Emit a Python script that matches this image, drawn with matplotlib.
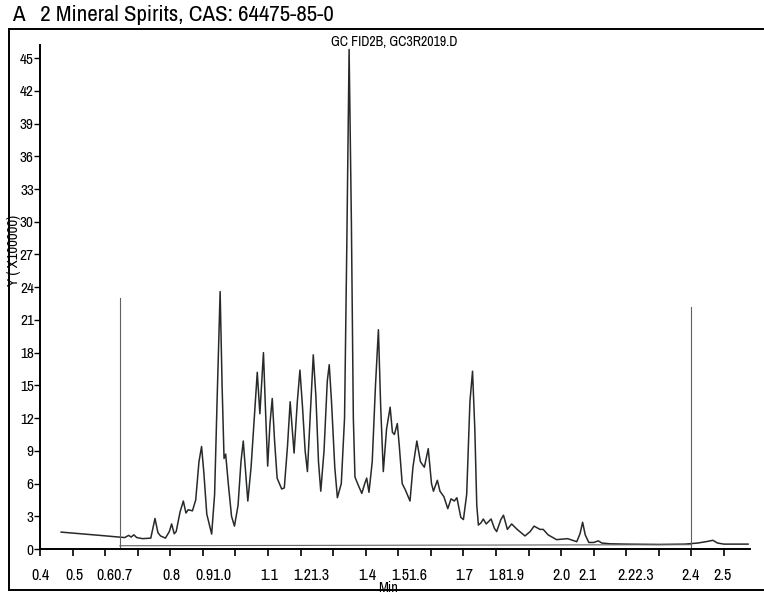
import numpy as np
import matplotlib.pyplot as plt
from matplotlib.lines import Line2D
from matplotlib import font_manager

#%% chromatogram (time in min, signal in 1e5 counts)
rt = [0.465, 0.523, 0.584, 0.643, 0.660, 0.672, 0.680, 0.688, 0.697, 0.715, 0.740,
      0.753, 0.762, 0.770, 0.785, 0.797, 0.804, 0.812, 0.818, 0.830, 0.840, 0.848,
      0.855, 0.868, 0.878, 0.888, 0.896, 0.903, 0.912, 0.927, 0.936, 0.944, 0.953,
      0.959, 0.965, 0.970, 0.978, 0.988, 0.997, 1.008, 1.017, 1.024, 1.030, 1.038,
      1.048, 1.058, 1.067, 1.075, 1.086, 1.092, 1.099, 1.106, 1.113, 1.120, 1.128,
      1.142, 1.150, 1.160, 1.168, 1.180, 1.190, 1.198, 1.206, 1.214, 1.221, 1.230,
      1.239, 1.247, 1.255, 1.262, 1.272, 1.282, 1.288, 1.295, 1.305, 1.313, 1.325,
      1.335, 1.342, 1.349, 1.356, 1.362, 1.367, 1.375, 1.388, 1.397, 1.403, 1.410,
      1.420, 1.430, 1.439, 1.446, 1.454, 1.464, 1.475, 1.482, 1.488, 1.497, 1.503,
      1.512, 1.522, 1.536, 1.545, 1.557, 1.568, 1.580, 1.592, 1.602, 1.608, 1.620,
      1.628, 1.640, 1.652, 1.662, 1.672, 1.680, 1.692, 1.700, 1.710, 1.720, 1.728,
      1.735, 1.741, 1.746, 1.754, 1.761, 1.770, 1.785, 1.795, 1.802, 1.815, 1.823,
      1.835, 1.848, 1.865, 1.889, 1.905, 1.917, 1.935, 1.945, 1.960, 1.986, 2.000,
      2.020, 2.048, 2.058, 2.066, 2.074, 2.085, 2.100, 2.114, 2.125, 2.150, 2.200,
      2.300, 2.380, 2.420, 2.450, 2.466, 2.480, 2.500, 2.574]
signal = [1.55, 1.40, 1.25, 1.10, 1.05, 1.25, 1.10, 1.30, 1.05, 0.95, 1.00,
          2.80, 1.50, 1.20, 1.00, 1.60, 2.30, 1.40, 1.60, 3.40, 4.40, 3.30,
          3.60, 3.50, 4.50, 8.00, 9.40, 7.00, 3.20, 1.37, 5.00, 14.0, 23.6,
          15.0, 8.30, 8.70, 6.00, 3.00, 2.10, 4.00, 8.00, 9.90, 7.50, 4.40,
          7.50, 12.0, 16.2, 12.4, 18.0, 13.0, 7.60, 11.5, 13.8, 10.0, 6.50,
          5.50, 5.60, 9.50, 13.5, 8.80, 13.5, 16.4, 13.0, 9.00, 7.10, 12.5,
          17.8, 14.0, 8.00, 5.30, 9.00, 15.4, 16.9, 13.5, 7.50, 4.70, 6.00,
          12.0, 28.0, 45.8, 30.0, 12.0, 6.60, 6.00, 5.10, 6.00, 6.50, 5.20,
          8.00, 15.0, 20.1, 13.0, 7.10, 11.0, 13.0, 10.7, 10.5, 11.5, 9.50,
          6.00, 5.40, 4.40, 7.50, 9.90, 8.00, 7.50, 9.20, 6.00, 5.30, 6.30,
          5.30, 4.80, 3.70, 4.60, 4.40, 4.70, 2.90, 2.70, 5.00, 13.5, 16.3,
          11.0, 4.00, 2.20, 2.40, 2.75, 2.30, 2.75, 1.90, 1.60, 2.70, 3.10,
          1.80, 2.30, 1.80, 1.20, 1.60, 2.10, 1.80, 1.80, 1.30, 0.86, 0.90,
          0.95, 0.67, 1.40, 2.45, 1.30, 0.60, 0.60, 0.75, 0.55, 0.48, 0.45,
          0.42, 0.45, 0.55, 0.70, 0.80, 0.55, 0.45, 0.45]

# integration events (start / stop markers) and the drawn baseline
event_rt = [0.645, 2.400]
event_top = [23.0, 22.2]
base_rt = [0.645, 2.400]
base_val = [0.30, 0.40]

xticks = np.round(np.arange(0.4, 2.51, 0.1), 1)
yticks = list(range(0, 46, 3))
# the printout squeezes neighbouring labels together
xlabels = ['0.4', '0.5', '0.60.7', '0.8', '0.91.0', '1.1', '1.21.3', '1.4',
           '1.51.6', '1.7', '1.81.9', '2.0', '2.1', '2.22.3', '2.4', '2.5']
xlabel_at = [0.40, 0.505, 0.630, 0.803, 0.932, 1.103, 1.232, 1.405,
             1.533, 1.703, 1.833, 2.000, 2.080, 2.230, 2.397, 2.495]

#%% pick a narrow regular font if one is installed (printout uses a condensed face)
def is_regular(f):
    w = f.weight
    return (w in ('normal', 'regular', 'book', 'medium') or w in (400, 500)) and f.style == 'normal'

narrow = None
for f in sorted(font_manager.fontManager.ttflist, key=lambda f: f.name):
    nm = f.name.lower()
    if 'mono' in nm or 'serif' in nm and 'sans' not in nm:
        continue
    if not is_regular(f):
        continue
    if 'narrow' in nm or 'condensed' in nm or f.stretch in ('condensed', 'semi-condensed'):
        narrow = f
        break

def tf(size):
    if narrow is not None:
        p = font_manager.FontProperties(fname=narrow.fname, size=size)
        return dict(fontproperties=p)
    # plain fonts are wider than the scan, so shrink a bit
    return dict(family=['Liberation Sans', 'DejaVu Sans'], fontsize=size * 0.85)

#%% figure
fig = plt.figure(figsize=(7.64, 5.98), dpi=100)
ax = fig.add_axes([0.0524, 0.0819, 0.9293, 0.8428])

ax.plot(rt, signal, color='#262a28', lw=1.1)
for x, top in zip(event_rt, event_top):
    ax.plot([x, x], [0.05, top], color='#606060', lw=0.8)
ax.plot(base_rt, base_val, color='#606060', lw=0.8)

ax.set_xlim(0.4, 2.58)
ax.set_ylim(0, 46.2)
for s in ['top', 'right']:
    ax.spines[s].set_visible(False)
for s in ['left', 'bottom']:
    ax.spines[s].set_linewidth(1.4)

ax.set_xticks(xticks)
ax.set_xticklabels([])
ax.set_yticks(yticks)
ax.set_yticklabels([str(v) for v in yticks], **tf(11))
ax.tick_params(axis='x', direction='out', length=5, width=1.2)
ax.tick_params(axis='y', direction='out', length=4, width=1.0, pad=0.5)

for lbl, x in zip(xlabels, xlabel_at):
    ax.annotate(lbl, (x, 0), xycoords=('data', 'axes fraction'), xytext=(0, -19),
                textcoords='offset points', ha='center', va='center', **tf(11.5))

# scan-style outer frame
fig.add_artist(Line2D([9/764, 763/764], [1-29/598, 1-29/598], color='black', lw=1.4))
fig.add_artist(Line2D([9/764, 9/764], [1-29/598, 1-590/598], color='black', lw=1.4))
fig.add_artist(Line2D([9/764, 763/764], [1-590/598, 1-590/598], color='black', lw=1.4))

fig.text(12/764, 1-15/598, 'A   2 Mineral Spirits, CAS: 64475-85-0',
         ha='left', va='center', **tf(16.5))
fig.text(394/764, 1-42/598, 'GC FID2B, GC3R2019.D', ha='center', va='center', **tf(10))
fig.text(14/764, 1-250/598, 'Y ( X100000)', rotation=90,
         ha='center', va='center', **tf(10.5))
fig.text(388/764, 1-588/598, 'Min', ha='center', va='center', **tf(10.5))

fig.savefig('out.png', dpi=100)
